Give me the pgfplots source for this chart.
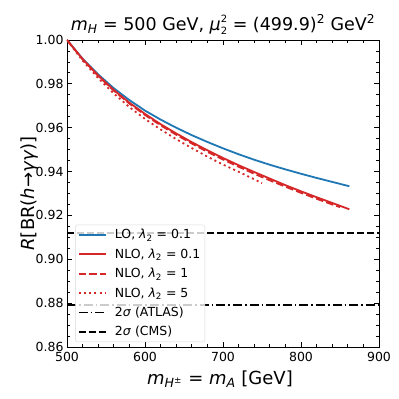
\documentclass[border=0pt]{standalone}
\usepackage{pgfplots}
\pgfplotsset{compat=1.18}
\usepackage{fontspec}
\setmainfont{DejaVu Sans}
\definecolor{tabblue}{RGB}{31,119,180}
\definecolor{tabred}{RGB}{214,39,40}
\newcommand{\subsup}[2]{\makebox[0pt][l]{\raisebox{-0.45ex}{\fontsize{10}{10}\selectfont #1}}\raisebox{0.85ex}{\fontsize{10}{10}\selectfont #2}}
\begin{document}
\begin{tikzpicture}
\useasboundingbox (-67pt,-52pt) rectangle (332pt,347pt);
\begin{axis}[
  scale only axis, width=312pt, height=307pt,
  anchor=south west, at={(0,0)},
  xmin=500, xmax=900, ymin=0.86, ymax=1.0,
  xtick={500,600,700,800,900},
  ytick={0.86,0.88,0.90,0.92,0.94,0.96,0.98,1.00},
  minor x tick num=4, minor y tick num=3,
  tick align=inside, xtick pos=both, ytick pos=both,
  major tick length=5pt, minor tick length=2.8pt,
  every tick/.style={black, line width=0.8pt},
  axis line style={black, line width=0.8pt},
  /pgf/number format/assume math mode=true,
  yticklabel style={/pgf/number format/fixed, /pgf/number format/fixed zerofill, /pgf/number format/precision=2},
  xticklabel style={/pgf/number format/1000 sep={}, yshift=-1.5pt},
  ticklabel style={font=\fontsize{12.5}{14}\selectfont},
  label style={font=\fontsize{18}{21}\selectfont},
  ylabel style={yshift=-9pt},
  xlabel style={yshift=-2pt, xshift=-3pt},
  title style={font=\fontsize{17.5}{20}\selectfont, yshift=-4pt},
  title={\textit{m}\textsubscript{\textit{H}} = 500 GeV, \textit{μ}\subsup{2}{2} = (499.9)\textsuperscript{2} GeV\textsuperscript{2}},
  xlabel={\textit{m}\textsubscript{\textit{H}\textsuperscript{±}} = \textit{m}\textsubscript{\textit{A}} [GeV]},
  ylabel={\textit{R}[BR(\textit{h}→\textit{γγ})]},
  legend cell align=left,
  legend style={at={(0.026,0.016)}, anchor=south west, font=\fontsize{12.5}{14}\selectfont,
    draw=black!15, fill=white, fill opacity=0.8, text opacity=1, rounded corners=2pt,
    inner sep=2.5pt, row sep=4.4pt,
    /tikz/every odd column/.append style={column sep=6pt}},
  legend image post style={xscale=1.6},
]
\addplot[tabblue, line width=1.8pt] coordinates {
(500,1.000) (520,0.9915) (540,0.9843) (560,0.9780) (580,0.9726) (600,0.9678) (620,0.9637) (640,0.9600) (660,0.9566) (680,0.9535) (700,0.9506) (720,0.9479) (740,0.9454) (760,0.9431) (780,0.9410) (800,0.9390) (820,0.9371) (840,0.9353) (862,0.9333)};
\addlegendentry{LO, \textit{λ}\textsubscript{2} = 0.1}
\addplot[tabred, line width=1.8pt] coordinates {
(500,1.000) (520,0.9913) (540,0.9838) (560,0.9772) (580,0.9714) (600,0.9663) (620,0.9616) (640,0.9574) (660,0.9534) (680,0.9497) (700,0.9462) (720,0.9429) (740,0.9398) (760,0.9368) (780,0.9338) (800,0.9310) (820,0.9283) (840,0.9257) (862,0.9228)};
\addlegendentry{NLO, \textit{λ}\textsubscript{2} = 0.1}
\addplot[tabred, line width=1.8pt, dash pattern=on 7.5pt off 3.2pt] coordinates {
(500,1.000) (520,0.9912) (540,0.9836) (560,0.9769) (580,0.9710) (600,0.9658) (620,0.9611) (640,0.9568) (660,0.9528) (680,0.9490) (700,0.9455) (720,0.9422) (740,0.9390) (760,0.9360) (780,0.9331) (800,0.9303) (820,0.9276) (840,0.9250) (850,0.9238)};
\addlegendentry{NLO, \textit{λ}\textsubscript{2} = 1}
\addplot[tabred, line width=1.8pt, dash pattern=on 2pt off 3.2pt] coordinates {
(500,1.000) (520,0.9906) (540,0.9826) (560,0.9756) (580,0.9694) (600,0.9640) (620,0.9592) (640,0.9548) (660,0.9507) (680,0.9468) (700,0.9432) (720,0.9399) (740,0.9365) (750,0.9347)};
\addlegendentry{NLO, \textit{λ}\textsubscript{2} = 5}
\addplot[black, line width=1.8pt, dash pattern=on 9pt off 3pt on 1.6pt off 3pt] coordinates {(500,0.8792) (900,0.8792)};
\addlegendentry{2\textit{σ} (ATLAS)}
\addplot[black, line width=1.8pt, dash pattern=on 7pt off 3pt] coordinates {(500,0.912) (900,0.912)};
\addlegendentry{2\textit{σ} (CMS)}
\end{axis}
\end{tikzpicture}
\end{document}
